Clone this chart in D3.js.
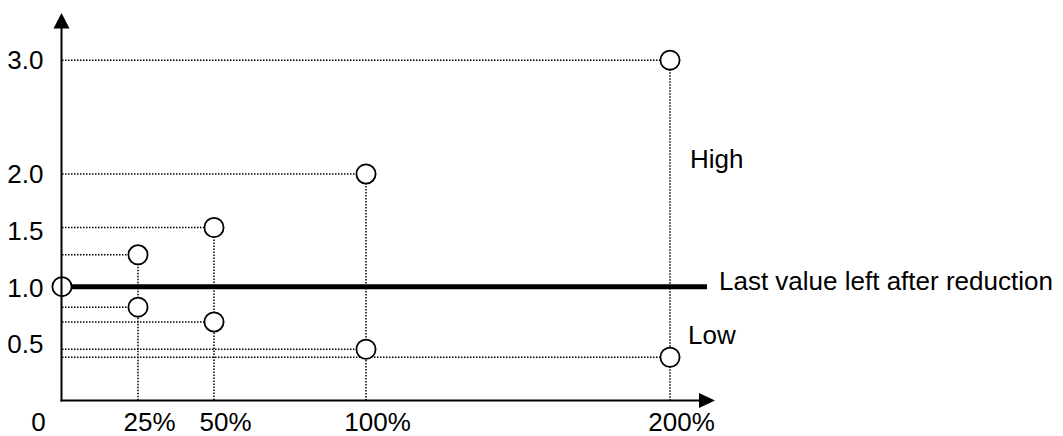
<!DOCTYPE html>
<html>
<head>
<meta charset="utf-8">
<script src="https://cdn.jsdelivr.net/npm/d3@7"></script>
<style>
	body { margin: 0; background: #fff; }
	text { font-family: Arial, "Liberation Sans", sans-serif; fill: #000; }
</style>
</head>
<body>
<div class="chart-wrapper"></div>
<script>

// reduction steps (%) and the two values that can be left after each step
const steps = [25, 50, 100, 200]
const highValues = [1.28, 1.52, 1.99, 2.99]
const lowValues = [0.82, 0.69, 0.45, 0.38]
const startValue = 1.0

const xTicks = [0, 25, 50, 100, 200]
const yTicks = [0.5, 1.0, 1.5, 2.0, 3.0]

const width = 1063
const height = 436
const fontSize = 26

let svg = d3.select('.chart-wrapper').append('svg')
.attr('width', width)
.attr('height', height)

let x = d3.scaleLinear()
.domain([0, 200])
.range([62, 670])

let y = d3.scaleLinear()
.domain([0, 3])
.range([400.5, 59])

let dotted = '1.5 1.5'

// points: start value + high and low for every step
let points = [{ step: 0, value: startValue }]
steps.forEach((s, i) => {
	points.push({ step: s, value: highValues[i] })
	points.push({ step: s, value: lowValues[i] })
})

let guides = svg.append('g')

// horizontal dotted guides from the axis to each point
guides.selectAll('.h-guide')
.data(points.filter(p => p.step > 0))
.enter().append('line')
.attr('x1', x(0))
.attr('x2', d => x(d.step))
.attr('y1', d => y(d.value))
.attr('y2', d => y(d.value))
.attr('stroke', '#000')
.attr('stroke-width', 1.5)
.attr('stroke-dasharray', dotted)

// vertical dotted guides from the highest point of each step down to the axis
guides.selectAll('.v-guide')
.data(steps)
.enter().append('line')
.attr('x1', d => x(d))
.attr('x2', d => x(d))
.attr('y1', (d, i) => y(highValues[i]))
.attr('y2', y(0))
.attr('stroke', '#000')
.attr('stroke-width', 1.5)
.attr('stroke-dasharray', dotted)

// thick line for the value left after reduction
svg.append('line')
.attr('x1', x(0) + 10)
.attr('x2', 707)
.attr('y1', y(startValue))
.attr('y2', y(startValue))
.attr('stroke', '#000')
.attr('stroke-width', 5)

svg.selectAll('.point')
.data(points)
.enter().append('circle')
.attr('cx', d => x(d.step))
.attr('cy', d => y(d.value))
.attr('r', 9.6)
.attr('fill', d => d.step === 0 ? 'none' : '#fff')
.attr('stroke', '#000')
.attr('stroke-width', 1.8)

// axes with arrow heads
let x0 = x(0) - 0.5
let y0 = y(0)

svg.append('line')
.attr('x1', x0).attr('x2', x0)
.attr('y1', y0 + 1).attr('y2', 26)
.attr('stroke', '#000')
.attr('stroke-width', 2)

svg.append('line')
.attr('x1', x0 - 1).attr('x2', 702)
.attr('y1', y0).attr('y2', y0)
.attr('stroke', '#000')
.attr('stroke-width', 2)

svg.append('path')
.attr('d', `M${x0},13 L${x0 - 8},28.5 L${x0 + 8},28.5 Z`)
.attr('fill', '#000')

svg.append('path')
.attr('d', `M715,${y0} L699,${y0 - 7.5} L699,${y0 + 7.5} Z`)
.attr('fill', '#000')

// tick labels, no tick marks
let yAxis = svg.append('g')
.attr('transform', `translate(${x0},0)`)
.call(d3.axisLeft(y).tickValues(yTicks).tickSize(0).tickPadding(18).tickFormat(d3.format('.1f')))

let xAxis = svg.append('g')
.attr('transform', `translate(0,${y0})`)
.call(d3.axisBottom(x).tickValues(xTicks).tickSize(0).tickPadding(12).tickFormat(d => d === 0 ? '0' : d + '%'))

;[yAxis, xAxis].forEach(a => {
	a.select('.domain').remove()
	a.selectAll('text')
	.attr('font-size', fontSize)
	.attr('font-family', 'Arial, "Liberation Sans", sans-serif')
	.attr('fill', '#000')
})

yAxis.selectAll('text').attr('dy', '0.36em')
xAxis.selectAll('text').attr('dx', d => d === 0 ? -24 : 11)

// annotations
svg.append('text')
.attr('x', 719)
.attr('y', 290)
.attr('font-size', fontSize)
.text('Last value left after reduction')

svg.append('text')
.attr('x', 690)
.attr('y', 168)
.attr('font-size', fontSize)
.text('High')

svg.append('text')
.attr('x', 688)
.attr('y', 344)
.attr('font-size', fontSize)
.text('Low')

</script>
</body>
</html>
